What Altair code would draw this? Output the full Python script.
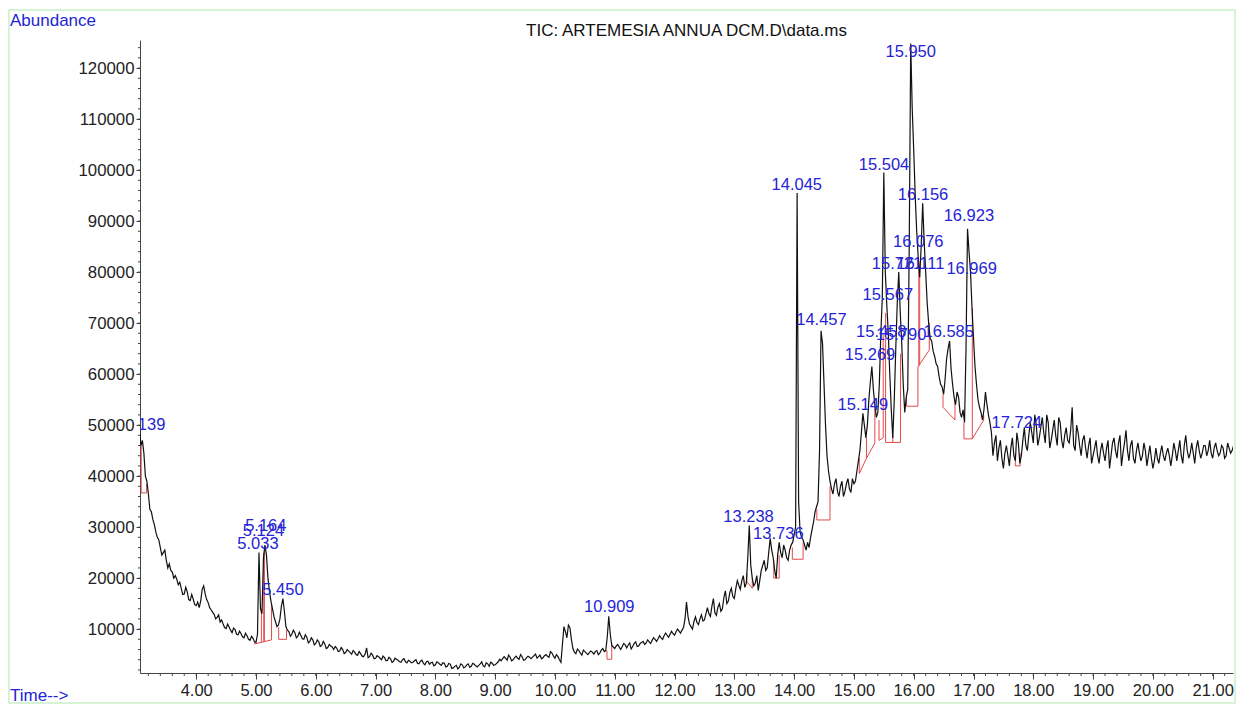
import altair as alt
import pandas as pd

# ---------------- data ----------------
t_start = 3.05   # minutes, first sample
t_step = 0.025   # minutes between samples (after interleaving)

# samples at 3.05, 3.10, 3.15, ... (every 0.05 min)
abundance_a = [
    49500, 47000, 40000, 36500, 33000, 30500, 28000, 26000, 25000, 23500,   # 3.05
    22800, 21200, 20500, 18700, 18000, 16900, 17300, 15600, 15900, 14600,   # 3.55
    14200, 17800, 16900, 15200, 13800, 12900, 12300, 11400, 11000, 10100,   # 4.05
    10400, 9300, 9900, 8900, 9100, 8300, 8700, 7800, 8200, 7400,            # 4.55
    25000, 13000, 26500, 20000, 15500, 12500, 10500, 12000, 16000, 10500,   # 5.05
    9500, 9000, 9300, 8600, 8800, 8000, 8400, 7600, 7900, 7200,             # 5.55
    7500, 6800, 7100, 6400, 6700, 6000, 6300, 5700, 6000, 5400,             # 6.05
    5700, 5100, 5500, 4900, 5200, 4600, 6300, 4600, 4900, 4300,             # 6.55
    4600, 4000, 4400, 3900, 4200, 3700, 4100, 3600, 4000, 3600,             # 7.05
    3900, 3400, 3800, 3300, 3700, 3300, 3600, 3100, 3500, 3000,             # 7.55
    3400, 2900, 3300, 2700, 3100, 2400, 2900, 2500, 3000, 2600,             # 8.05
    3200, 2700, 3100, 2600, 3200, 2800, 3400, 2700, 3300, 3000,             # 8.55
    3600, 3800, 4600, 3900, 4500, 4000, 4700, 4100, 4600, 4000,             # 9.05
    4700, 4200, 4800, 4300, 4900, 4400, 5000, 4500, 5300, 4300,             # 9.55
    4600, 3500, 10500, 8300, 10300, 6200, 5200, 5800, 4900, 5600,          # 10.05
    5000, 5700, 5100, 5800, 5300, 6200, 5800, 12500, 6800, 6200,           # 10.55
    7000, 6000, 7200, 6300, 7300, 6600, 7500, 6700, 7400, 7000,             # 11.05
    7900, 7200, 8300, 7600, 8700, 8000, 9200, 8400, 9600, 8800,             # 11.55
    10000, 9200, 10300, 15300, 11000, 10000, 12400, 10900, 12800, 11800,   # 12.05
    14200, 12500, 16000, 12700, 15000, 14000, 17500, 15500, 18000, 16000,  # 12.55
    19500, 17800, 20500, 19000, 30300, 20000, 19000, 17600, 21500, 23500,  # 13.05
    22000, 27800, 24000, 20000, 27000, 24000, 25500, 23500, 26500, 28500,  # 13.55
    95500, 29000, 27500, 25500, 26000, 29500, 33000, 35000, 68500, 58000,  # 14.05
    44000, 39000, 36500, 39500, 36000, 39000, 37000, 39500, 36800, 38500,  # 14.55
    41000, 45000, 52300, 47500, 55000, 61500, 54000, 52500, 68000, 99500,  # 15.05
    73500, 60000, 47500, 65000, 80000, 66000, 52500, 57000, 124800, 104000,  # 15.55
    88000, 79000, 93500, 80000, 70000, 66500, 63500, 61500, 58000, 56000,  # 16.05
    63000, 66500, 58000, 54000, 55500, 51500, 50500, 88500, 80000, 67000,  # 16.55
    58000, 53500, 51000, 56500, 52000, 48500, 46500, 43000, 47000, 41500,  # 17.05
    46000, 42000, 47500, 43000, 46500, 44000, 49500, 45000, 50500, 46500,  # 17.55
    50000, 47500, 51500, 46500, 50500, 47000, 51000, 46000, 50500, 45500,  # 18.05
    49500, 46500, 53500, 45000, 48500, 44000, 48000, 43500, 47500, 44000,  # 18.55
    47000, 42500, 46500, 43000, 47000, 44000, 47500, 43500, 48000, 44500,  # 19.05
    49000, 43000, 47000, 42500, 46500, 43000, 46500, 42000, 46000, 41500,  # 19.55
    45500, 42500, 46000, 43000, 45500, 42000, 46500, 43000, 47000, 42500,  # 20.05
    48000, 43500, 46500, 42500, 47000, 43500, 46000, 44000, 47000, 43500,  # 20.55
    46500, 44000, 46000, 43500, 46500, 44500, 46000,                        # 21.05
]
# samples at 3.075, 3.125, 3.175, ... (between the ones above)
abundance_b = [
    46000, 44500, 39000, 33500, 31500, 29000, 27500, 24500, 25500, 22000,   # 3.075
    21500, 20000, 19800, 19200, 16800, 18200, 15800, 16800, 14800, 15300,   # 3.575
    15500, 18500, 15800, 14200, 13300, 12000, 12800, 11800, 10300, 11000,   # 4.075
    9800, 10200, 9000, 9600, 8500, 9200, 8000, 8600, 7500, 9000,            # 4.575
    14000, 24000, 24500, 17500, 14000, 11500, 10800, 14500, 13500, 9800,    # 5.075
    8600, 9800, 8300, 9400, 8100, 8900, 7300, 8300, 6900, 7900,             # 5.575
    6600, 7600, 6200, 7000, 6500, 6600, 5600, 6400, 5200, 6000,             # 6.075
    5400, 5800, 5000, 5600, 4700, 5100, 4400, 5300, 4200, 4800,             # 6.575
    4300, 4700, 3800, 4500, 3500, 4300, 3900, 3500, 4200, 3400,             # 7.075
    3700, 3500, 4000, 3200, 3900, 3000, 3700, 3400, 2800, 3600,             # 7.575
    3100, 3400, 2600, 3300, 2300, 2700, 2200, 3200, 2400, 3000,             # 8.075
    2500, 3300, 2800, 2900, 3600, 2600, 3200, 3500, 2900, 3300,             # 8.575
    4100, 4200, 4300, 4900, 3800, 4400, 4300, 5000, 3900, 4400,             # 9.075
    4500, 4500, 5100, 4600, 4200, 4800, 4700, 5600, 4700, 5000,             # 9.575
    4000, 7000, 9500, 10800, 8000, 5500, 6100, 5300, 5900, 5300,            # 10.075
    5400, 5500, 5600, 5000, 5900, 5600, 8500, 9000, 6500, 6700,             # 10.575
    6500, 6600, 6900, 6900, 6100, 7200, 6600, 7200, 7600, 7300,             # 11.075
    7500, 7800, 8000, 8100, 8300, 8700, 8800, 9000, 9100, 9500,             # 11.575
    9600, 9800, 12000, 12500, 10500, 11500, 11300, 12000, 11600, 13000,    # 12.075
    13000, 14500, 13200, 14300, 13500, 16200, 15000, 17200, 16400, 18000,  # 12.575
    18600, 19500, 18200, 24000, 22500, 18500, 20500, 19500, 22500, 21500,  # 13.075
    25000, 25500, 21500, 24500, 25000, 26500, 24000, 25500, 27000, 30000,  # 13.575
    35000, 28000, 26500, 27000, 28000, 31000, 34000, 45000, 66000, 50000,  # 14.075
    41000, 37500, 38500, 37000, 38000, 36000, 38500, 37500, 39500, 39000,  # 14.575
    43000, 48500, 50000, 50000, 58500, 57000, 51500, 58000, 75000, 80000,  # 15.075
    68000, 53000, 55000, 74000, 72000, 58000, 55500, 85000, 112000, 95000,  # 15.575
    83000, 85000, 86000, 74000, 67000, 64500, 62000, 59500, 57500, 59000,  # 16.075
    65000, 61000, 55500, 56500, 52500, 53000, 65000, 84000, 73000, 61500,  # 16.575
    55000, 52500, 53000, 54000, 50500, 44000, 48000, 45500, 43500, 44500,  # 17.075
    44000, 45500, 44000, 48500, 42500, 47000, 46000, 48000, 48500, 52000,  # 17.575
    46000, 49500, 48500, 52000, 45500, 49000, 48000, 51500, 47000, 48000,  # 18.075
    47000, 49000, 46000, 50000, 46000, 47000, 45500, 46000, 42500, 45500,  # 18.575
    44000, 45000, 44500, 45500, 41500, 46500, 45000, 46500, 42000, 46500,  # 19.075
    45000, 46000, 43500, 45000, 44500, 44000, 45000, 44000, 43500, 43000,  # 19.575
    43500, 44500, 44000, 44500, 44000, 44000, 45000, 45000, 44000, 46000,  # 20.075
    45000, 44500, 44500, 45500, 45000, 44500, 46000, 45000, 44500, 45500,  # 20.575
    45000, 44500, 45500, 44000, 45500, 45000,                              # 21.075
]
abundance = []
for i, v in enumerate(abundance_a):
    abundance.append(v)
    if i < len(abundance_b):
        abundance.append(abundance_b[i])
time_min = [round(t_start + i * t_step, 3) for i in range(len(abundance))]

# peak labels (retention time) and the abundance where each label sits
peak_labels = ["3.139", "5.033", "5.124", "5.164", "5.450", "10.909", "13.238",
               "13.736", "14.045", "14.457", "15.149", "15.269", "15.458",
               "15.504", "15.567", "15.721", "15.790", "15.950", "16.076",
               "16.111", "16.156", "16.585", "16.923", "16.969", "17.724"]
label_abundance = [49000, 25700, 28200, 29200, 16700, 13300, 31000,
                   27600, 96000, 69600, 52900, 62700, 67200,
                   100000, 74500, 80600, 66600, 122100, 84900,
                   80600, 94100, 67200, 90000, 79600, 49400]

# red integration baselines / drop lines: segments (t1, a1) -> (t2, a2)
seg_t1 = [3.08, 3.08, 3.17,
          4.98, 4.98, 5.09, 5.13, 5.14, 5.26,
          5.38, 5.38, 5.51,
          10.87, 10.87, 10.95,
          13.21, 13.21, 13.30,
          13.66, 13.66, 13.75,
          13.97, 13.97, 14.15,
          14.38, 14.38, 14.60,
          15.09, 15.09, 15.21, 15.21, 15.35,
          15.42, 15.42, 15.49,
          15.53, 15.53, 15.65, 15.78,
          15.88, 15.88, 16.07, 16.07, 16.085, 16.10, 16.26,
          16.49, 16.49, 16.69,
          16.84, 16.84, 16.98, 16.98, 17.17,
          17.70, 17.70, 17.78]
seg_a1 = [46500, 36700, 36700,
          7100, 7100, 7400, 7500, 7550, 7900,
          10400, 8000, 8000,
          5800, 4100, 4100,
          21000, 19300, 18000,
          23500, 20000, 20000,
          26000, 23700, 23700,
          33500, 31400, 31400,
          43500, 40500, 43500, 43500, 46500,
          51000, 47000, 47500,
          72000, 46600, 46600, 46600,
          56000, 53700, 53700, 61400, 61600, 61800, 64700,
          56000, 53500, 51000,
          50500, 47300, 47300, 47300, 51000,
          44500, 42000, 42000]
seg_t2 = [3.08, 3.17, 3.17,
          5.26, 4.98, 5.09, 5.13, 5.14, 5.26,
          5.38, 5.51, 5.51,
          10.87, 10.95, 10.95,
          13.21, 13.30, 13.30,
          13.66, 13.75, 13.75,
          13.97, 14.15, 14.15,
          14.38, 14.60, 14.60,
          15.09, 15.21, 15.21, 15.35, 15.35,
          15.42, 15.49, 15.49,
          15.53, 15.78, 15.65, 15.78,
          15.88, 16.07, 16.07, 16.26, 16.085, 16.10, 16.26,
          16.49, 16.69, 16.69,
          16.84, 16.98, 16.98, 17.17, 17.17,
          17.70, 17.78, 17.78]
seg_a2 = [36700, 36700, 38500,
          7900, 7600, 14000, 25000, 25500, 15000,
          8000, 8000, 9800,
          4100, 4100, 7300,
          19300, 18000, 20000,
          20000, 20000, 24500,
          23700, 23700, 27000,
          31400, 31400, 38000,
          40500, 43500, 47500, 46500, 53500,
          47000, 47500, 68000,
          46600, 46600, 48000, 64000,
          53700, 53700, 61400, 64700, 82000, 79500, 70000,
          53500, 51000, 55000,
          47300, 47300, 73000, 51000, 52000,
          42000, 42000, 44500]

# axis tick values
x_major = [4, 5, 6, 7, 8, 9, 10, 11, 12, 13, 14, 15, 16, 17, 18, 19, 20, 21]
y_major = [10000, 20000, 30000, 40000, 50000, 60000, 70000, 80000, 90000,
           100000, 110000, 120000]

title_text = "TIC: ARTEMESIA ANNUA DCM.D\\data.ms"

# ---------------- chart ----------------
W, H = 1093, 633
FONT = "Liberation Sans"
BLUE = "#2424d6"
RED = "#e24a4a"
AXC = "#444444"

xs = alt.Scale(domain=[3.06, 21.34], nice=False, zero=False)
ys = alt.Scale(domain=[1400, 125500], nice=False, zero=False)
ax_x = alt.Axis(values=x_major, format=".2f", grid=False, tickSize=6,
                labelFontSize=16.5, labelFont=FONT, labelColor="#222222",
                domainColor=AXC, tickColor=AXC, labelPadding=3,
                labelFlush=False, labelOverlap=False)
ax_y = alt.Axis(values=y_major, format="d", grid=False, tickSize=4,
                labelFontSize=16.8, labelFont=FONT, labelColor="#222222",
                domainColor=AXC, tickColor=AXC, labelPadding=2,
                labelFlush=False, labelOverlap=False)


def X(field):
    return alt.X(field, scale=xs, axis=ax_x, title=None)


def Y(field):
    return alt.Y(field, scale=ys, axis=ax_y, title=None)


trace_df = pd.DataFrame({"t": time_min, "a": abundance})
seg_df = pd.DataFrame({"t": seg_t1, "a": seg_a1, "t2": seg_t2, "a2": seg_a2})
lab_df = pd.DataFrame({"t": [float(s) for s in peak_labels],
                       "a": label_abundance, "label": peak_labels})
x_minor_df = pd.DataFrame({"t": [round(3.2 + 0.2 * i, 1) for i in range(91)]})
y_minor_df = pd.DataFrame({"a": [2000 * k for k in range(1, 63)]})
one = pd.DataFrame({"k": [0]})

trace = alt.Chart(trace_df).mark_line(color="#111111", strokeWidth=1.2, clip=True).encode(
    x=X("t:Q"), y=Y("a:Q"))

red = alt.Chart(seg_df).mark_rule(color=RED, strokeWidth=1, clip=True).encode(
    x=X("t:Q"), x2="t2:Q", y=Y("a:Q"), y2="a2:Q")

labels = alt.Chart(lab_df).mark_text(
    color=BLUE, fontSize=16.5, font=FONT, align="center", baseline="alphabetic", clip=True
).encode(x=X("t:Q"), y=Y("a:Q"), text="label:N")

x_minor = alt.Chart(x_minor_df).mark_rule(color=AXC, strokeWidth=1).encode(
    x=X("t:Q"), y=alt.value(H), y2=alt.value(H + 3))
y_minor = alt.Chart(y_minor_df).mark_rule(color=AXC, strokeWidth=1).encode(
    y=Y("a:Q"), x=alt.value(-2), x2=alt.value(0))

title_txt = alt.Chart(one).mark_text(
    color="#111111", fontSize=17, font=FONT, align="center", baseline="alphabetic"
).encode(x=alt.value(W / 2), y=alt.value(-4), text=alt.value(title_text))

abund_txt = alt.Chart(one).mark_text(
    color=BLUE, fontSize=17, font=FONT, align="left", baseline="alphabetic"
).encode(x=alt.value(-130), y=alt.value(-14), text=alt.value("Abundance"))

time_txt = alt.Chart(one).mark_text(
    color=BLUE, fontSize=17, font=FONT, align="left", baseline="alphabetic"
).encode(x=alt.value(-130), y=alt.value(H + 28), text=alt.value("Time-->"))

frame = alt.Chart(one).mark_rect(filled=False, stroke="#c9f0c9", strokeWidth=1.5).encode(
    x=alt.value(-131), x2=alt.value(W + 2), y=alt.value(-30), y2=alt.value(H + 30))

chart = alt.layer(
    frame, x_minor, y_minor, red, trace, labels, title_txt, abund_txt, time_txt
).properties(
    width=W, height=H,
    background="white",
    autosize=alt.AutoSizeParams(type="none"),
    padding={"left": 132, "top": 32, "right": 3, "bottom": 31},
).configure_view(stroke=None)

chart.save("out.html", embed_options={"renderer": "svg", "actions": False})
